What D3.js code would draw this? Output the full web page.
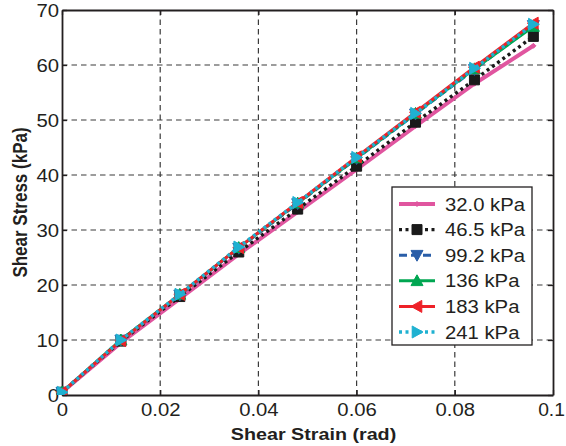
<!DOCTYPE html>
<html>
<head>
<meta charset="utf-8">
<script src="https://cdn.jsdelivr.net/npm/d3@7"></script>
<style>
  html, body { margin: 0; padding: 0; background: #fff; }
  svg { display: block; }
  text { font-family: "Liberation Sans", Arial, Helvetica, sans-serif; fill: #231f20; }
</style>
</head>
<body>
<svg id="chart" width="566" height="446"></svg>
<script>
// Shear strain (rad) at each loading step
const strain = [0, 0.012, 0.024, 0.036, 0.048, 0.060, 0.072, 0.084, 0.096];

// Shear stress (kPa) for each confining pressure
const s32_0 = [0.5, 9.5, 17.5, 25.6, 33.3, 41.0, 48.9, 56.6, 63.5];
const s46_5 = [0.5, 9.8, 17.9, 26.0, 33.8, 41.6, 49.6, 57.3, 65.2];
const s99_2 = [0.5, 10.0, 18.2, 26.7, 34.8, 43.0, 51.1, 59.2, 67.2];
const s136  = [0.5, 10.0, 18.3, 26.8, 34.9, 43.1, 51.2, 59.3, 67.0];
const s183  = [0.5, 9.9, 18.3, 26.8, 35.0, 43.3, 51.4, 59.6, 67.6];
const s241  = [0.5, 10.0, 18.3, 26.9, 35.0, 43.2, 51.2, 59.4, 67.4];

const seriesNames = ["32.0 kPa", "46.5 kPa", "99.2 kPa", "136 kPa", "183 kPa", "241 kPa"];

const xTicks = [0, 0.02, 0.04, 0.06, 0.08, 0.1];
const xTickLabels = ["0", "0.02", "0.04", "0.06", "0.08", "0.1"];
const yTicks = [0, 10, 20, 30, 40, 50, 60, 70];
const yTickLabels = ["0", "10", "20", "30", "40", "50", "60", "70"];

// Line / marker styling per series
const styles = [
  { color: "#e0559f", width: 4,   dash: null,  marker: "diamond", size: 5 },
  { color: "#1a1a1a", width: 3.4, dash: "3,3.5", marker: "square",  size: 10 },
  { color: "#2a5ea8", width: 3,   dash: "8,4", marker: "down",    size: 12 },
  { color: "#00a651", width: 3,   dash: null,  marker: "up",      size: 12 },
  { color: "#ee2128", width: 3,   dash: null,  marker: "left",    size: 12 },
  { color: "#1fb1d1", width: 3.4, dash: "3,3.5", marker: "right",   size: 12 }
];

const series = [s32_0, s46_5, s99_2, s136, s183, s241].map((vals, i) => ({
  name: seriesNames[i],
  style: styles[i],
  points: strain.map((s, j) => ({ x: s, y: vals[j] }))
}));

const svg = d3.select("#chart");
const plot = { left: 62, right: 553, top: 10, bottom: 395 };
const x = d3.scaleLinear().domain([0, 0.1]).range([plot.left, plot.right]);
const y = d3.scaleLinear().domain([0, 70]).range([plot.bottom, plot.top]);

const SX = 1.16; // horizontal stretch of the typeface
const FS = 17.5; // tick / legend font size

// Dashed grid
const grid = svg.append("g").attr("stroke", "#3a3a3a").attr("stroke-width", 1.2)
  .attr("stroke-dasharray", "5.5,4");
xTicks.slice(1, -1).forEach(t => {
  grid.append("line").attr("x1", x(t)).attr("x2", x(t))
    .attr("y1", plot.top).attr("y2", plot.bottom);
});
yTicks.slice(1, -1).forEach(t => {
  grid.append("line").attr("x1", plot.left).attr("x2", plot.right)
    .attr("y1", y(t)).attr("y2", y(t));
});

// Axes with inward ticks on all four sides
function styleAxis(g) {
  g.select(".domain").attr("stroke", "#231f20").attr("stroke-width", 1.8);
  g.selectAll(".tick line").attr("stroke", "#231f20").attr("stroke-width", 1.3);
}
const axB = svg.append("g").attr("transform", `translate(0,${plot.bottom})`)
  .call(d3.axisBottom(x).tickValues(xTicks).tickFormat((d, i) => xTickLabels[i])
    .tickSizeInner(-5).tickSizeOuter(0));
styleAxis(axB);
const lastX = xTicks.length - 1;
axB.selectAll(".tick text").attr("font-size", FS).attr("fill", "#231f20")
  .attr("y", 0).attr("dy", 0)
  .attr("transform", (d, i) => `translate(${i === lastX ? -2 : 0},21) scale(${i === lastX ? 1.1 : SX},1)`);

const axT = svg.append("g").attr("transform", `translate(0,${plot.top})`)
  .call(d3.axisTop(x).tickValues(xTicks).tickFormat("").tickSizeInner(-5).tickSizeOuter(0));
styleAxis(axT);

const axL = svg.append("g").attr("transform", `translate(${plot.left},0)`)
  .call(d3.axisLeft(y).tickValues(yTicks).tickFormat((d, i) => yTickLabels[i])
    .tickSizeInner(-5).tickSizeOuter(0));
styleAxis(axL);
axL.selectAll(".tick text").attr("font-size", FS).attr("fill", "#231f20")
  .attr("x", 0).attr("dy", "0.36em")
  .attr("transform", `translate(-3,0) scale(${SX},1)`);

const axR = svg.append("g").attr("transform", `translate(${plot.right},0)`)
  .call(d3.axisRight(y).tickValues(yTicks).tickFormat("").tickSizeInner(-5).tickSizeOuter(0));
styleAxis(axR);

// Marker shapes
function markerPath(type, s) {
  const h = s / 2;
  switch (type) {
    case "diamond": return `M0,${-h}L${h},0L0,${h}L${-h},0Z`;
    case "square":  return `M${-h},${-h}H${h}V${h}H${-h}Z`;
    case "down":    return `M${-h},${-h * 0.8}L${h},${-h * 0.8}L0,${h}Z`;
    case "up":      return `M${-h},${h * 0.8}L${h},${h * 0.8}L0,${-h}Z`;
    case "left":    return `M${h * 0.8},${-h}L${h * 0.8},${h}L${-h},0Z`;
    case "right":   return `M${-h * 0.8},${-h}L${-h * 0.8},${h}L${h},0Z`;
  }
}

// Series lines and markers
const line = d3.line().x(d => x(d.x)).y(d => y(d.y));
svg.append("defs").append("clipPath").attr("id", "plotclip")
  .append("rect").attr("x", plot.left - 8).attr("y", plot.top - 8)
  .attr("width", plot.right - plot.left + 16).attr("height", plot.bottom - plot.top + 8);

const layer = svg.append("g").attr("clip-path", "url(#plotclip)");
series.forEach(s => {
  const g = layer.append("g");
  g.append("path").datum(s.points)
    .attr("d", line)
    .attr("fill", "none")
    .attr("stroke", s.style.color)
    .attr("stroke-width", s.style.width)
    .attr("stroke-dasharray", s.style.dash)
    .attr("stroke-linecap", s.style.dash ? "butt" : "round");
  g.selectAll("path.m").data(s.points).join("path")
    .attr("class", "m")
    .attr("transform", d => `translate(${x(d.x)},${y(d.y)})`)
    .attr("d", markerPath(s.style.marker, s.style.size))
    .attr("fill", s.style.color)
    .attr("stroke", s.style.color)
    .attr("stroke-width", 1);
});

// Axis titles
svg.append("text")
  .attr("transform", `translate(${(plot.left + plot.right) / 2 + 6},440) scale(${SX},1)`)
  .attr("text-anchor", "middle")
  .attr("font-size", 17).attr("font-weight", "bold")
  .text("Shear Strain (rad)");

svg.append("text")
  .attr("transform", `translate(27,${(plot.top + plot.bottom) / 2}) rotate(-90) scale(1,${SX})`)
  .attr("text-anchor", "middle")
  .attr("font-size", 17).attr("font-weight", "bold")
  .text("Shear Stress (kPa)");

// Legend
const leg = { x: 392, y: 187, w: 140, h: 158, row0: 204, step: 25.6 };
const lg = svg.append("g");
lg.append("rect").attr("x", leg.x).attr("y", leg.y).attr("width", leg.w).attr("height", leg.h)
  .attr("fill", "#fff").attr("stroke", "#231f20").attr("stroke-width", 1.3);
series.forEach((s, i) => {
  const cy = leg.row0 + i * leg.step;
  lg.append("line").attr("x1", leg.x + 7).attr("x2", leg.x + 43)
    .attr("y1", cy).attr("y2", cy)
    .attr("stroke", s.style.color).attr("stroke-width", s.style.width)
    .attr("stroke-dasharray", s.style.dash);
  lg.append("path").attr("transform", `translate(${leg.x + 25},${cy})`)
    .attr("d", markerPath(s.style.marker, s.style.size))
    .attr("fill", s.style.color).attr("stroke", s.style.color);
  lg.append("text")
    .attr("transform", `translate(${leg.x + 53},${cy + 6.5}) scale(${SX},1)`)
    .attr("font-size", FS).text(s.name);
});
</script>
</body>
</html>
